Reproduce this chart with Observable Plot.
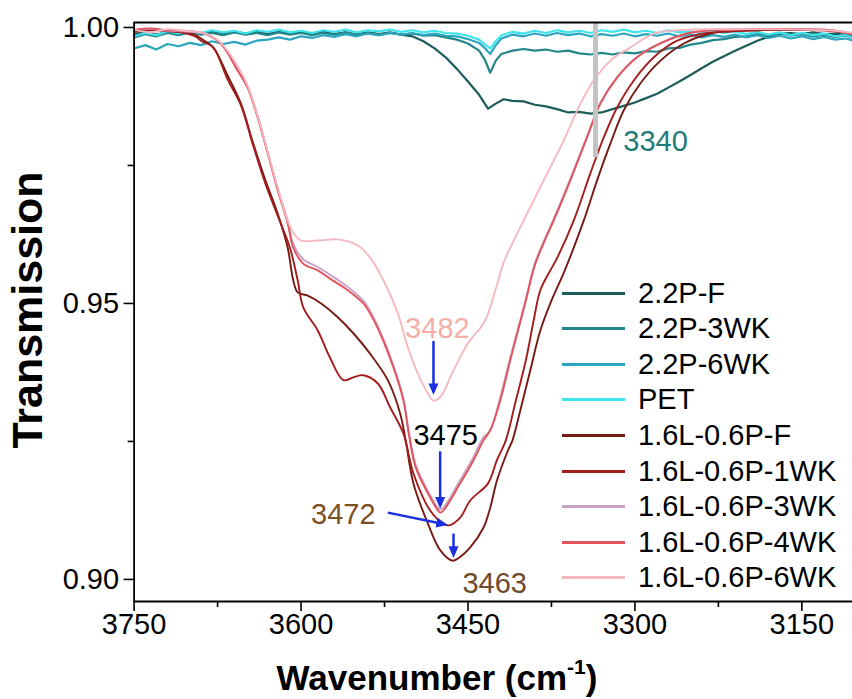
<!DOCTYPE html>
<html><head><meta charset="utf-8">
<script src="https://cdn.jsdelivr.net/npm/d3@7"></script>
<script src="https://cdn.jsdelivr.net/npm/@observablehq/plot@0.6"></script>
<style>
body{margin:0;background:#fff;}
#wrap{position:relative;width:852px;height:699px;overflow:hidden;font-family:"Liberation Sans",Arial,sans-serif;color:#000;}
#chart{position:absolute;left:0;top:0;}
#ytitle{position:absolute;left:27px;top:310px;transform:translate(-50%,-50%) rotate(-90deg);font-weight:bold;font-size:43px;white-space:nowrap;line-height:1;}
#xtitle{position:absolute;left:437px;top:677px;transform:translate(-50%,-50%);font-weight:bold;font-size:35px;white-space:nowrap;line-height:1;}
#xtitle sup{font-size:0.6em;position:relative;top:-0.75em;vertical-align:baseline;}
#legend{position:absolute;left:562px;top:0;}
.lrow{position:absolute;left:0;display:flex;align-items:center;height:36px;white-space:nowrap;font-size:29px;}
.lsw{width:63px;height:3px;margin-right:13px;}
</style></head><body>
<div id="wrap">
<div id="chart"></div>
<div id="legend"></div>
<div id="ytitle">Transmission</div>
<div id="xtitle">Wavenumber (cm<sup>-1</sup>)</div>
</div>
<script>
// ---------- data ----------
const seriesNames = ["2.2P-F","2.2P-3WK","2.2P-6WK","PET","1.6L-0.6P-F","1.6L-0.6P-1WK","1.6L-0.6P-3WK","1.6L-0.6P-4WK","1.6L-0.6P-6WK"];
const seriesColors = ["#1d5c5c","#23868b","#2ba6bf","#3fe3ec","#761a14","#a41c1c","#c9a2c8","#e2545c","#f5b8c0"];

const s22P_F = [[3750,0.9988],[3740,0.9991],[3730,0.9987],[3720,0.9992],[3710,0.9988],[3700,0.9993],[3690,0.9989],[3680,0.9992],[3670,0.9988],[3660,0.9993],[3650,0.9989],[3640,0.9992],[3630,0.9988],[3620,0.9992],[3610,0.9989],[3600,0.9993],[3590,0.9989],[3580,0.9992],[3570,0.9988],[3560,0.9991],[3550,0.9987],[3540,0.9991],[3530,0.9988],[3520,0.9991],[3510,0.9987],[3500,0.9984],[3490,0.9975],[3480,0.9962],[3470,0.9946],[3460,0.9925],[3450,0.9902],[3440,0.9878],[3432,0.9853],[3425,0.9862],[3418,0.9870],[3410,0.9867],[3400,0.9866],[3390,0.9860],[3380,0.9857],[3370,0.9852],[3360,0.9846],[3350,0.9847],[3340,0.9844],[3330,0.9846],[3320,0.9852],[3310,0.9858],[3300,0.9864],[3290,0.9872],[3280,0.9880],[3270,0.9891],[3260,0.9902],[3250,0.9914],[3240,0.9926],[3230,0.9938],[3220,0.9948],[3210,0.9958],[3200,0.9967],[3190,0.9976],[3180,0.9983],[3170,0.9989],[3160,0.9990],[3150,0.9988],[3140,0.9991],[3130,0.9988],[3120,0.9989],[3110,0.9986],[3104,0.9984]];

const s22P_3WK = [[3750,0.9982],[3740,0.9988],[3730,0.9984],[3720,0.9990],[3710,0.9986],[3700,0.9991],[3690,0.9987],[3680,0.9990],[3670,0.9986],[3660,0.9991],[3650,0.9987],[3640,0.9990],[3630,0.9986],[3620,0.9991],[3610,0.9987],[3600,0.9990],[3590,0.9986],[3580,0.9990],[3570,0.9987],[3560,0.9991],[3550,0.9987],[3540,0.9990],[3530,0.9986],[3520,0.9990],[3510,0.9987],[3500,0.9989],[3490,0.9985],[3480,0.9986],[3470,0.9982],[3460,0.9978],[3450,0.9971],[3440,0.9958],[3435,0.9942],[3430,0.9918],[3425,0.9940],[3420,0.9952],[3410,0.9958],[3400,0.9961],[3390,0.9958],[3380,0.9960],[3370,0.9956],[3360,0.9958],[3350,0.9953],[3340,0.9951],[3330,0.9954],[3320,0.9951],[3310,0.9955],[3300,0.9953],[3290,0.9957],[3280,0.9956],[3270,0.9962],[3260,0.9963],[3250,0.9969],[3240,0.9972],[3230,0.9977],[3220,0.9979],[3210,0.9983],[3200,0.9984],[3190,0.9988],[3180,0.9986],[3170,0.9989],[3160,0.9985],[3150,0.9988],[3140,0.9984],[3130,0.9987],[3120,0.9983],[3110,0.9985],[3104,0.9981]];

const s22P_6WK = [[3750,0.9962],[3740,0.9968],[3730,0.9960],[3720,0.9970],[3710,0.9966],[3700,0.9972],[3690,0.9968],[3680,0.9975],[3670,0.9970],[3660,0.9974],[3650,0.9969],[3640,0.9976],[3630,0.9978],[3620,0.9982],[3610,0.9978],[3600,0.9984],[3590,0.9981],[3580,0.9986],[3570,0.9983],[3560,0.9988],[3550,0.9984],[3540,0.9989],[3530,0.9986],[3520,0.9990],[3510,0.9987],[3500,0.9990],[3490,0.9986],[3480,0.9989],[3470,0.9985],[3460,0.9984],[3450,0.9979],[3440,0.9972],[3435,0.9963],[3430,0.9952],[3425,0.9968],[3420,0.9980],[3410,0.9987],[3400,0.9984],[3390,0.9989],[3380,0.9985],[3370,0.9990],[3360,0.9986],[3350,0.9989],[3340,0.9984],[3330,0.9988],[3320,0.9985],[3310,0.9989],[3300,0.9984],[3290,0.9988],[3280,0.9985],[3270,0.9989],[3260,0.9984],[3250,0.9987],[3240,0.9982],[3230,0.9986],[3220,0.9983],[3210,0.9987],[3200,0.9982],[3190,0.9986],[3180,0.9981],[3170,0.9985],[3160,0.9980],[3150,0.9984],[3140,0.9979],[3130,0.9983],[3120,0.9978],[3110,0.9980],[3104,0.9976]];

const sPET = [[3750,0.9984],[3740,0.9990],[3730,0.9986],[3720,0.9993],[3710,0.9989],[3700,0.9994],[3690,0.9990],[3680,0.9995],[3670,0.9991],[3660,0.9994],[3650,0.9989],[3640,0.9995],[3630,0.9992],[3620,0.9996],[3610,0.9991],[3600,0.9994],[3590,0.9990],[3580,0.9995],[3570,0.9992],[3560,0.9996],[3550,0.9991],[3540,0.9995],[3530,0.9993],[3520,0.9996],[3510,0.9992],[3500,0.9995],[3490,0.9991],[3480,0.9994],[3470,0.9990],[3460,0.9989],[3450,0.9985],[3440,0.9978],[3435,0.9970],[3430,0.9962],[3425,0.9975],[3420,0.9986],[3410,0.9992],[3400,0.9989],[3390,0.9994],[3380,0.9990],[3370,0.9995],[3360,0.9991],[3350,0.9994],[3340,0.9990],[3330,0.9995],[3320,0.9992],[3310,0.9996],[3300,0.9991],[3290,0.9994],[3280,0.9990],[3270,0.9995],[3260,0.9991],[3250,0.9993],[3240,0.9989],[3230,0.9994],[3220,0.9990],[3210,0.9993],[3200,0.9988],[3190,0.9992],[3180,0.9987],[3170,0.9991],[3160,0.9986],[3150,0.9990],[3140,0.9986],[3130,0.9989],[3120,0.9984],[3110,0.9986],[3104,0.9982]];

const sL_F = [[3750,0.9992],[3735,0.9995],[3720,0.9993],[3705,0.9991],[3695,0.9986],[3690,0.9980],[3679,0.9964],[3666,0.9913],[3654,0.9862],[3643,0.9790],[3632,0.9723],[3621,0.9663],[3612,0.9601],[3607,0.9542],[3603,0.9520],[3594,0.9514],[3582,0.9500],[3567,0.9475],[3553,0.9446],[3538,0.9409],[3522,0.9361],[3511,0.9301],[3506,0.9252],[3499,0.9174],[3486,0.9101],[3475,0.9053],[3464,0.9034],[3459,0.9038],[3448,0.9058],[3436,0.9094],[3430,0.9130],[3424,0.9179],[3414,0.9234],[3410,0.9252],[3403,0.9306],[3394,0.9379],[3385,0.9451],[3375,0.9505],[3363,0.9560],[3346,0.9650],[3334,0.9723],[3322,0.9790],[3310,0.9850],[3295,0.9899],[3277,0.9940],[3256,0.9971],[3232,0.9989],[3214,0.9993],[3190,0.9995],[3160,0.9996],[3130,0.9995],[3115,0.9992],[3104,0.9987]];

const sL_1WK = [[3750,0.9993],[3735,0.9996],[3720,0.9994],[3705,0.9990],[3695,0.9984],[3690,0.9976],[3679,0.9964],[3666,0.9906],[3654,0.9859],[3643,0.9786],[3632,0.9717],[3621,0.9659],[3610,0.9601],[3603,0.9542],[3598,0.9493],[3585,0.9451],[3574,0.9402],[3562,0.9361],[3553,0.9366],[3544,0.9370],[3531,0.9355],[3520,0.9312],[3508,0.9264],[3499,0.9192],[3484,0.9125],[3472,0.9101],[3467,0.9098],[3457,0.9112],[3448,0.9143],[3432,0.9174],[3424,0.9216],[3416,0.9252],[3407,0.9324],[3398,0.9397],[3391,0.9469],[3385,0.9524],[3376,0.9560],[3371,0.9578],[3355,0.9650],[3340,0.9736],[3328,0.9801],[3316,0.9855],[3301,0.9904],[3283,0.9946],[3262,0.9976],[3238,0.9989],[3214,0.9993],[3190,0.9995],[3160,0.9996],[3130,0.9995],[3115,0.9992],[3104,0.9988]];

const sL_3WK = [[3750,0.9995],[3735,0.9997],[3720,0.9994],[3705,0.9993],[3686,0.9988],[3672,0.9970],[3657,0.9924],[3648,0.9893],[3639,0.9840],[3630,0.9775],[3621,0.9708],[3612,0.9650],[3607,0.9608],[3598,0.9580],[3585,0.9566],[3574,0.9552],[3558,0.9530],[3544,0.9505],[3538,0.9487],[3529,0.9450],[3517,0.9388],[3508,0.9328],[3503,0.9266],[3497,0.9208],[3486,0.9160],[3477,0.9130],[3475,0.9127],[3472,0.9130],[3457,0.9180],[3445,0.9222],[3436,0.9258],[3432,0.9265],[3428,0.9280],[3421,0.9330],[3412,0.9402],[3405,0.9455],[3398,0.9508],[3390,0.9572],[3381,0.9617],[3373,0.9653],[3358,0.9726],[3343,0.9803],[3331,0.9864],[3316,0.9910],[3298,0.9947],[3277,0.9972],[3253,0.9989],[3232,0.9995],[3200,0.9997],[3160,0.9997],[3130,0.9996],[3115,0.9993],[3104,0.9988]];

const sL_4WK = [[3750,0.9996],[3735,0.9998],[3720,0.9995],[3705,0.9994],[3686,0.9989],[3672,0.9971],[3657,0.9922],[3648,0.9891],[3639,0.9837],[3630,0.9772],[3621,0.9705],[3612,0.9645],[3607,0.9601],[3598,0.9572],[3585,0.9560],[3574,0.9545],[3558,0.9524],[3544,0.9500],[3538,0.9482],[3529,0.9446],[3517,0.9384],[3508,0.9324],[3503,0.9261],[3497,0.9203],[3486,0.9156],[3477,0.9125],[3475,0.9121],[3472,0.9125],[3457,0.9174],[3445,0.9216],[3436,0.9252],[3430,0.9270],[3421,0.9324],[3412,0.9397],[3405,0.9451],[3398,0.9505],[3390,0.9569],[3381,0.9614],[3373,0.9650],[3358,0.9723],[3343,0.9801],[3331,0.9862],[3316,0.9909],[3298,0.9946],[3277,0.9971],[3253,0.9989],[3232,0.9995],[3200,0.9997],[3160,0.9997],[3130,0.9996],[3115,0.9993],[3104,0.9988]];

const sL_6WK = [[3750,0.9996],[3735,0.9991],[3720,0.9997],[3705,0.9994],[3690,0.9991],[3681,0.9985],[3672,0.9972],[3657,0.9930],[3648,0.9895],[3639,0.9840],[3630,0.9775],[3621,0.9710],[3612,0.9650],[3606,0.9625],[3600,0.9614],[3585,0.9614],[3567,0.9616],[3549,0.9605],[3538,0.9583],[3526,0.9542],[3513,0.9482],[3504,0.9420],[3495,0.9373],[3486,0.9337],[3481,0.9324],[3475,0.9330],[3463,0.9379],[3450,0.9428],[3443,0.9446],[3439,0.9455],[3433,0.9476],[3424,0.9533],[3418,0.9574],[3400,0.9650],[3382,0.9723],[3364,0.9795],[3349,0.9862],[3337,0.9904],[3322,0.9940],[3304,0.9964],[3283,0.9989],[3262,0.9995],[3230,0.9997],[3190,0.9997],[3150,0.9996],[3120,0.9994],[3104,0.9990]];

const seriesData = [s22P_F, s22P_3WK, s22P_6WK, sPET, sL_F, sL_1WK, sL_3WK, sL_4WK, sL_6WK];

// axes
const xDomain = [3750, 3104.5];
const yDomain = [0.8960, 1.0009];
const xTicks = [3750, 3600, 3450, 3300, 3150];
const xMinorTicks = [3675, 3525, 3375, 3225];
const yTicks = [0.90, 0.95, 1.00];
const yMinorTicks = [0.925, 0.975];

// annotations
const annLabels = ["3482", "3475", "3472", "3463", "3340"];
const annX = [3477.5, 3470, 3562, 3426, 3281.5];
const annY = [0.9455, 0.9261, 0.9118, 0.8993, 0.9793];
const annColors = ["#f3b0a6", "#000000", "#7f4f24", "#6e4b2a", "#1f7a7a"];

const arrowX1 = [3481, 3475, 3522, 3463];
const arrowY1 = [0.9432, 0.9232, 0.9121, 0.9083];
const arrowX2 = [3481, 3475, 3471, 3463];
const arrowY2 = [0.9340, 0.9134, 0.9100, 0.9045];
const arrowColor = "#1c2fe0";

const markerX = [3335.4];
const markerY1 = [0.9764];
const markerY2 = [1.0009];

// ---------- build ----------
const lineMarks = seriesData.map((d, i) =>
  Plot.line(d, {x: p => p[0], y: p => p[1], stroke: seriesColors[i],
    strokeWidth: i < 4 ? 2.2 : 1.9, curve: i < 4 ? "linear" : "catmull-rom"}));

const arrows = arrowX1.map((x, i) => ({x1: x, y1: arrowY1[i], x2: arrowX2[i], y2: arrowY2[i]}));
const anns = annLabels.map((t, i) => ({t, x: annX[i], y: annY[i], c: annColors[i]}));
const bar = markerX.map((x, i) => ({x, y1: markerY1[i], y2: markerY2[i]}));

const chart = Plot.plot({
  width: 852, height: 699,
  marginLeft: 133.6, marginRight: 0, marginTop: 22, marginBottom: 98,
  x: {domain: xDomain},
  y: {domain: yDomain},
  style: {fontFamily: "'Liberation Sans', Arial, sans-serif", fontSize: "29px", color: "#000", background: "#fff", overflow: "visible"},
  marks: [
    Plot.axisX({ticks: xTicks, tickSize: 10, tickPadding: 2, tickFormat: d => String(d), label: null, strokeWidth: 1.6, fontSize: 29}),
    Plot.axisX({ticks: xMinorTicks, tickSize: 6, tickFormat: () => "", label: null, strokeWidth: 1.6}),
    Plot.axisY({ticks: yTicks, tickSize: 10, tickPadding: 5, tickFormat: d3.format(".2f"), label: null, strokeWidth: 1.6, fontSize: 29}),
    Plot.axisY({ticks: yMinorTicks, tickSize: 6, tickFormat: () => "", label: null, strokeWidth: 1.6}),
    ...lineMarks,
    Plot.ruleX(bar, {x: "x", y1: "y1", y2: "y2", stroke: "#c3c3c3", strokeWidth: 5}),
    Plot.ruleX([xDomain[0]], {stroke: "#000", strokeWidth: 1.8}),
    Plot.ruleY([yDomain[0]], {stroke: "#000", strokeWidth: 1.8}),
    Plot.ruleY([yDomain[1]], {stroke: "#000", strokeWidth: 1.8}),
    Plot.link(arrows, {x1: "x1", y1: "y1", x2: "x2", y2: "y2", stroke: arrowColor, strokeWidth: 2.5, markerEnd: "arrow"}),
    Plot.text(anns, {x: "x", y: "y", text: "t", fill: "c", fontSize: 29, textAnchor: "middle"})
  ]
});

// filled arrowheads
chart.querySelectorAll("marker").forEach(m => {
  const col = m.getAttribute("stroke") || arrowColor;
  m.setAttribute("fill", col);
  m.setAttribute("stroke", "none");
  const p = m.querySelector("path");
  if (p) p.setAttribute("d", "M-5,-3L2,0L-5,3Z");
});

document.getElementById("chart").appendChild(chart);

// legend
const leg = document.getElementById("legend");
seriesNames.forEach((n, i) => {
  const row = document.createElement("div");
  row.className = "lrow";
  row.style.top = (293 - 18 + i * 35.6) + "px";
  const sw = document.createElement("div");
  sw.className = "lsw";
  sw.style.background = seriesColors[i];
  const tx = document.createElement("span");
  tx.textContent = n;
  row.appendChild(sw); row.appendChild(tx);
  leg.appendChild(row);
});
</script>
</body></html>
